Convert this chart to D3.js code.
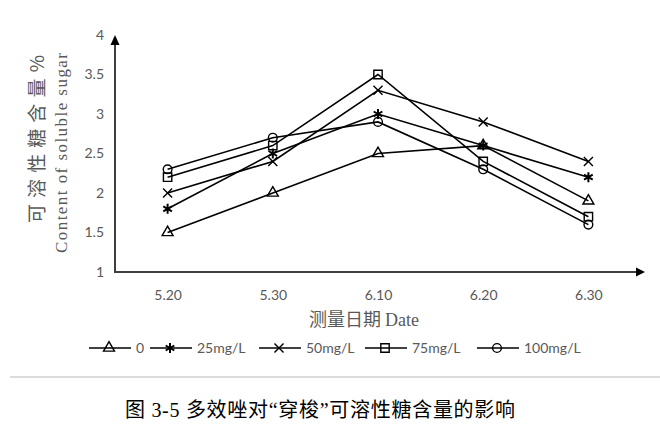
<!DOCTYPE html>
<html>
<head>
<meta charset="utf-8">
<script src="https://cdn.jsdelivr.net/npm/d3@7"></script>
<style>
  body { margin: 0; background: #fff; }
  .tick text { fill: #595959; font-family: Lato, "Open Sans", sans-serif; font-size: 14px; }
</style>
</head>
<body>
<svg id="chart"></svg>
<script>
var dates = ["5.20", "5.30", "6.10", "6.20", "6.30"]
var yTicks = [1, 1.5, 2, 2.5, 3, 3.5, 4]
var seriesNames = ["0", "25mg/L", "50mg/L", "75mg/L", "100mg/L"]
var s0 = [1.5, 2.0, 2.5, 2.6, 1.9]
var s25 = [1.8, 2.5, 3.0, 2.6, 2.2]
var s50 = [2.0, 2.4, 3.3, 2.9, 2.4]
var s75 = [2.2, 2.6, 3.5, 2.4, 1.7]
var s100 = [2.3, 2.7, 2.9, 2.3, 1.6]
var seriesValues = [s0, s25, s50, s75, s100]

var symbols = [d3.symbolTriangle, d3.symbolAsterisk, d3.symbolTimes, d3.symbolSquare, d3.symbolCircle]
var symbolSizes = [52, 70, 55, 70, 60]

var W = 660, H = 426
var svg = d3.select("#chart").attr("width", W).attr("height", H)

var x = d3.scalePoint().domain(dates).range([115, 641]).padding(0.5)
var y = d3.scaleLinear().domain([1, 4]).range([272, 35])

// axes, no tick marks
var gx = svg.append("g").attr("transform", "translate(0,272)")
  .call(d3.axisBottom(x).tickSize(0).tickPadding(18))
gx.select(".domain").remove()

var gy = svg.append("g").attr("transform", "translate(115,0)")
  .call(d3.axisLeft(y).tickValues(yTicks).tickFormat(d3.format("")).tickSize(0).tickPadding(11))
gy.select(".domain").remove()

// axis lines with arrows
svg.append("line").attr("x1", 115).attr("y1", 272).attr("x2", 638).attr("y2", 272)
  .attr("stroke", "#404040").attr("stroke-width", 2)
svg.append("line").attr("x1", 115).attr("y1", 273).attr("x2", 115).attr("y2", 42)
  .attr("stroke", "#404040").attr("stroke-width", 2)
svg.append("path").attr("d", "M645,272 L636,267.5 L636,276.5 Z").attr("fill", "#000")
svg.append("path").attr("d", "M115,35 L110.5,45 L119.5,45 Z").attr("fill", "#000")

// lines
var line = d3.line()
  .x(function (d, i) { return x(dates[i]) })
  .y(function (d) { return y(d) })

seriesValues.forEach(function (vals, k) {
  svg.append("path")
    .attr("d", line(vals))
    .attr("fill", "none")
    .attr("stroke", "#000")
    .attr("stroke-width", 1.6)
  svg.selectAll(".m" + k).data(vals).enter().append("path")
    .attr("class", "m" + k)
    .attr("transform", function (d, i) { return "translate(" + x(dates[i]) + "," + y(d) + ")" })
    .attr("d", d3.symbol().type(symbols[k]).size(symbolSizes[k]))
    .attr("fill", "none")
    .attr("stroke", "#000")
    .attr("stroke-width", k === 1 ? 2 : 1.4)
})

// y title
svg.append("text")
  .attr("transform", "translate(44,139) rotate(-90)")
  .attr("text-anchor", "middle")
  .attr("fill", "#595959")
  .attr("font-family", "'Noto Sans CJK SC', sans-serif")
  .attr("font-size", 19)
  .attr("textLength", 168)
  .text("可溶性糖含量%")
svg.append("text")
  .attr("transform", "translate(67,153) rotate(-90)")
  .attr("text-anchor", "middle")
  .attr("fill", "#595959")
  .attr("font-family", "'Liberation Serif', serif")
  .attr("font-size", 17)
  .attr("textLength", 200)
  .text("Content of soluble sugar")

// x title
var xt = svg.append("text")
  .attr("x", 364).attr("y", 326)
  .attr("text-anchor", "middle")
  .attr("fill", "#595959")
  .attr("font-size", 18)
xt.append("tspan").attr("font-family", "'Noto Sans CJK SC', sans-serif").text("测量日期 ")
xt.append("tspan").attr("font-family", "'Liberation Serif', serif").text("Date")

// legend
var legendX = [89, 150, 259, 365, 477]
var legend = svg.append("g")
seriesNames.forEach(function (name, k) {
  var g = legend.append("g").attr("transform", "translate(" + legendX[k] + ",348)")
  g.append("line").attr("x1", 0).attr("x2", 42).attr("y1", 0).attr("y2", 0)
    .attr("stroke", "#000").attr("stroke-width", 1.6)
  g.append("path").attr("transform", "translate(20,0)")
    .attr("d", d3.symbol().type(symbols[k]).size(symbolSizes[k]))
    .attr("fill", "none").attr("stroke", "#000")
    .attr("stroke-width", k === 1 ? 2 : 1.4)
  g.append("text").attr("x", 47).attr("y", 5)
    .attr("fill", "#595959")
    .attr("font-family", "Lato, 'Open Sans', sans-serif")
    .attr("font-size", 14)
    .text(name)
})

// separator
svg.append("line").attr("x1", 10).attr("x2", 660).attr("y1", 377).attr("y2", 377)
  .attr("stroke", "#dcdcdc").attr("stroke-width", 2)

// caption
svg.append("text")
  .attr("x", 320).attr("y", 417)
  .attr("text-anchor", "middle")
  .attr("fill", "#000")
  .attr("font-family", "'Liberation Serif', 'Noto Sans CJK SC', serif")
  .attr("font-size", 20)
  .attr("textLength", 390)
  .text("图 3-5 多效唑对“穿梭”可溶性糖含量的影响")
</script>
</body>
</html>
